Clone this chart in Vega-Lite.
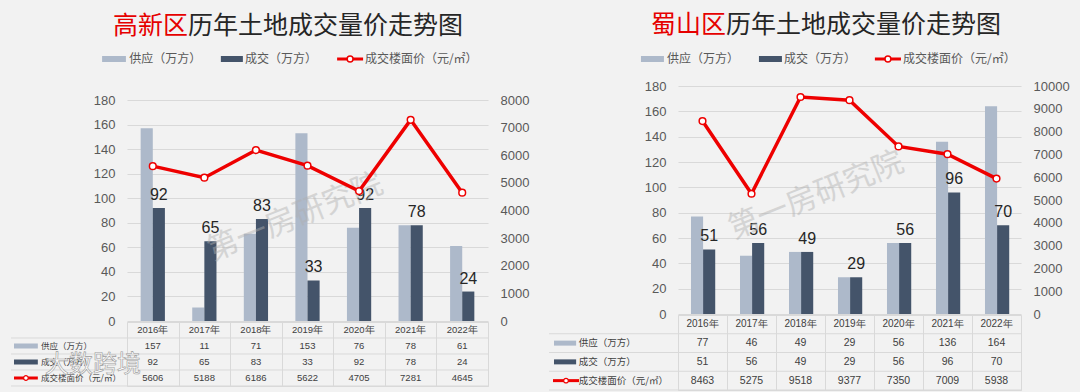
{
  "$schema": "https://vega.github.io/schema/vega-lite/v6.json",
  "background": "#f2f2f2",
  "padding": {"left": 10, "top": 0, "right": 10, "bottom": 4},
  "spacing": 19,
  "config": {
    "view": {"stroke": null},
    "font": "Noto Sans CJK SC",
    "axis": {"ticks": false, "domain": false, "labelFont": "Liberation Sans", "labelFontSize": 13, "labelColor": "#595959", "labelPadding": 12, "grid": false, "labelOverlap": false, "format": "d"}
  },
  "datasets": {
    "gx": [
      {"year": "2016年", "supply": 157, "deal": 92, "price": 5606},
      {"year": "2017年", "supply": 11, "deal": 65, "price": 5188},
      {"year": "2018年", "supply": 71, "deal": 83, "price": 6186},
      {"year": "2019年", "supply": 153, "deal": 33, "price": 5622},
      {"year": "2020年", "supply": 76, "deal": 92, "price": 4705},
      {"year": "2021年", "supply": 78, "deal": 78, "price": 7281},
      {"year": "2022年", "supply": 61, "deal": 24, "price": 4645}
    ],
    "ss": [
      {"year": "2016年", "supply": 77, "deal": 51, "price": 8463},
      {"year": "2017年", "supply": 46, "deal": 56, "price": 5275},
      {"year": "2018年", "supply": 49, "deal": 49, "price": 9518},
      {"year": "2019年", "supply": 29, "deal": 29, "price": 9377},
      {"year": "2020年", "supply": 56, "deal": 56, "price": 7350},
      {"year": "2021年", "supply": 136, "deal": 96, "price": 7009},
      {"year": "2022年", "supply": 164, "deal": 70, "price": 5938}
    ],
    "rows": [
      {"k": "supply", "name": "供应（万方）"},
      {"k": "deal", "name": "成交（万方）"},
      {"k": "price", "name": "成交楼面价（元/㎡）"}
    ]
  },
  "hconcat": [
    {
      "bounds": "flush",
      "spacing": 1,
      "vconcat": [
        {
          "width": 361, "height": 99,
          "data": {"values": [{}]},
          "layer": [
            {"mark": {"type": "text", "text": "高新区", "align": "right", "baseline": "middle", "fontSize": 25, "color": "#e60000"},
             "encoding": {"x": {"datum": 0.169, "type": "quantitative", "scale": {"domain": [0, 1]}, "axis": null}, "y": {"datum": 0.263, "type": "quantitative", "scale": {"domain": [0, 1], "reverse": true}, "axis": null}}},
            {"mark": {"type": "text", "text": "历年土地成交量价走势图", "align": "left", "baseline": "middle", "fontSize": 25, "color": "#262626"},
             "encoding": {"x": {"datum": 0.169, "type": "quantitative", "scale": {"domain": [0, 1]}, "axis": null}, "y": {"datum": 0.263, "type": "quantitative", "scale": {"domain": [0, 1], "reverse": true}, "axis": null}}},
            {"mark": {"type": "rule", "strokeWidth": 6, "color": "#adb9ca"},
             "encoding": {"x": {"datum": -0.069, "type": "quantitative", "scale": {"domain": [0, 1]}, "axis": null}, "x2": {"datum": -0.003}, "y": {"datum": 0.596, "type": "quantitative", "scale": {"domain": [0, 1], "reverse": true}, "axis": null}}},
            {"mark": {"type": "text", "text": "供应（万方）", "align": "left", "baseline": "middle", "fontSize": 12, "color": "#595959"},
             "encoding": {"x": {"datum": 0.006, "type": "quantitative", "scale": {"domain": [0, 1]}, "axis": null}, "y": {"datum": 0.596, "type": "quantitative", "scale": {"domain": [0, 1], "reverse": true}, "axis": null}}},
            {"mark": {"type": "rule", "strokeWidth": 6, "color": "#44546a"},
             "encoding": {"x": {"datum": 0.26, "type": "quantitative", "scale": {"domain": [0, 1]}, "axis": null}, "x2": {"datum": 0.321}, "y": {"datum": 0.596, "type": "quantitative", "scale": {"domain": [0, 1], "reverse": true}, "axis": null}}},
            {"mark": {"type": "text", "text": "成交（万方）", "align": "left", "baseline": "middle", "fontSize": 12, "color": "#595959"},
             "encoding": {"x": {"datum": 0.327, "type": "quantitative", "scale": {"domain": [0, 1]}, "axis": null}, "y": {"datum": 0.596, "type": "quantitative", "scale": {"domain": [0, 1], "reverse": true}, "axis": null}}},
            {"mark": {"type": "rule", "strokeWidth": 3, "color": "#ee0000"},
             "encoding": {"x": {"datum": 0.582, "type": "quantitative", "scale": {"domain": [0, 1]}, "axis": null}, "x2": {"datum": 0.654}, "y": {"datum": 0.596, "type": "quantitative", "scale": {"domain": [0, 1], "reverse": true}, "axis": null}}},
            {"mark": {"type": "point", "shape": "circle", "filled": true, "fill": "white", "stroke": "#ee0000", "strokeWidth": 1.5, "size": 35, "opacity": 1},
             "encoding": {"x": {"datum": 0.618, "type": "quantitative", "scale": {"domain": [0, 1]}, "axis": null}, "y": {"datum": 0.596, "type": "quantitative", "scale": {"domain": [0, 1], "reverse": true}, "axis": null}}},
            {"mark": {"type": "text", "text": "成交楼面价（元/㎡）", "align": "left", "baseline": "middle", "fontSize": 12, "color": "#595959"},
             "encoding": {"x": {"datum": 0.659, "type": "quantitative", "scale": {"domain": [0, 1]}, "axis": null}, "y": {"datum": 0.596, "type": "quantitative", "scale": {"domain": [0, 1], "reverse": true}, "axis": null}}}
          ]
        },
        {
          "width": 361, "height": 221,
          "data": {"name": "gx"},
          "resolve": {"scale": {"y": "independent"}},
          "layer": [
            {
              "layer": [
                {"transform": [{"fold": ["supply", "deal"], "as": ["key", "value"]}],
                 "mark": {"type": "bar"},
                 "encoding": {
                   "x": {"field": "year", "type": "nominal", "sort": null, "scale": {"paddingInner": 0.53, "paddingOuter": 0.265}, "axis": null},
                   "xOffset": {"field": "key", "type": "nominal", "scale": {"domain": ["supply", "deal"], "paddingInner": 0, "paddingOuter": 0}},
                   "y": {"field": "value", "type": "quantitative", "scale": {"domain": [0, 180], "nice": false}, "axis": {"values": [0, 20, 40, 60, 80, 100, 120, 140, 160, 180], "grid": true, "gridColor": "#d9d9d9", "title": null}},
                   "color": {"field": "key", "type": "nominal", "scale": {"domain": ["supply", "deal"], "range": ["#adb9ca", "#44546a"]}, "legend": null}
                 }},
                {"transform": [{"fold": ["deal"], "as": ["key", "value"]}],
                 "mark": {"type": "text", "baseline": "bottom", "dy": -5, "fontSize": 16, "font": "Liberation Sans", "color": "#262626"},
                 "encoding": {
                   "x": {"field": "year", "type": "nominal", "sort": null},
                   "xOffset": {"field": "key", "type": "nominal"},
                   "y": {"field": "value", "type": "quantitative", "axis": {"values": [0, 20, 40, 60, 80, 100, 120, 140, 160, 180], "grid": true, "gridColor": "#d9d9d9", "title": null}},
                   "text": {"field": "value", "type": "quantitative", "format": "d"}
                 }},
                {"data": {"values": [{}]},
                 "mark": {"type": "text", "text": "第一房研究院", "angle": 338, "fontSize": 31, "color": "#b0b0b0", "opacity": 0.45, "dx": -13},
                 "encoding": {"x": {"datum": "2019年", "type": "nominal"}, "y": {"datum": 88, "type": "quantitative", "axis": {"values": [0, 20, 40, 60, 80, 100, 120, 140, 160, 180], "grid": true, "gridColor": "#d9d9d9", "title": null}}}}
              ]
            },
            {
              "layer": [
                {"mark": {"type": "line", "color": "#ee0000", "strokeWidth": 3.5},
                 "encoding": {
                   "x": {"field": "year", "type": "nominal", "sort": null},
                   "y": {"field": "price", "type": "quantitative", "scale": {"domain": [0, 8000], "nice": false}, "axis": {"orient": "right", "values": [0, 1000, 2000, 3000, 4000, 5000, 6000, 7000, 8000], "title": null}}
                 }},
                {"mark": {"type": "point", "shape": "circle", "filled": true, "fill": "white", "stroke": "#ee0000", "strokeWidth": 1.5, "size": 45, "opacity": 1},
                 "encoding": {
                   "x": {"field": "year", "type": "nominal", "sort": null},
                   "y": {"field": "price", "type": "quantitative", "axis": {"orient": "right", "values": [0, 1000, 2000, 3000, 4000, 5000, 6000, 7000, 8000], "title": null}}
                 }}
              ]
            }
          ]
        },
        {
          "width": 361, "height": 64,
          "view": {"stroke": "#d9d9d9"},
          "resolve": {"scale": {"x": "independent"}},
          "layer": [
            {
              "data": {"name": "gx"},
              "layer": [
                {"transform": [{"fold": ["supply", "deal", "price"], "as": ["key", "value"]}],
                 "mark": {"type": "text", "fontSize": 9.5, "font": "Liberation Sans", "color": "#404040"},
                 "encoding": {
                   "x": {"field": "year", "type": "nominal", "sort": null, "scale": {"paddingInner": 0, "paddingOuter": 0}, "axis": {"tickBand": "extent", "grid": true, "gridColor": "#d9d9d9", "labels": false, "ticks": false, "domain": false, "title": null}},
                   "y": {"field": "key", "type": "nominal", "scale": {"domain": ["hdr", "supply", "deal", "price"], "paddingInner": 0, "paddingOuter": 0}, "axis": null},
                   "text": {"field": "value", "type": "quantitative", "format": "d"}
                 }},
                {"mark": {"type": "text", "fontSize": 9.5, "font": "Liberation Sans", "color": "#404040"},
                 "encoding": {
                   "x": {"field": "year", "type": "nominal", "sort": null},
                   "y": {"datum": "hdr", "type": "nominal", "axis": null},
                   "text": {"field": "year", "type": "nominal"}
                 }}
              ]
            },
            {
              "data": {"name": "rows"},
              "layer": [
                {"mark": {"type": "rule", "color": "#d9d9d9", "strokeWidth": 1},
                 "encoding": {
                   "x": {"datum": -0.3213, "type": "quantitative", "scale": {"domain": [0, 1]}, "axis": null},
                   "x2": {"datum": 1},
                   "y": {"field": "k", "type": "nominal", "bandPosition": 0, "axis": null}
                 }},
                {"data": {"values": [{}]},
                 "mark": {"type": "rule", "color": "#d9d9d9", "strokeWidth": 1},
                 "encoding": {
                   "x": {"datum": -0.3213, "type": "quantitative", "scale": {"domain": [0, 1]}, "axis": null},
                   "x2": {"datum": 1},
                   "y": {"datum": "price", "type": "nominal", "bandPosition": 1, "axis": null}
                 }},
                {"mark": {"type": "text", "align": "left", "baseline": "middle", "fontSize": 8.5, "color": "#404040"},
                 "encoding": {
                   "x": {"datum": -0.238, "type": "quantitative", "scale": {"domain": [0, 1]}, "axis": null},
                   "y": {"field": "k", "type": "nominal", "bandPosition": 0.5, "axis": null},
                   "text": {"field": "name", "type": "nominal"}
                 }},
                {"data": {"values": [{}]},
                 "mark": {"type": "rule", "color": "#adb9ca", "strokeWidth": 5},
                 "encoding": {
                   "x": {"datum": -0.313, "type": "quantitative", "scale": {"domain": [0, 1]}, "axis": null},
                   "x2": {"datum": -0.247},
                   "y": {"datum": "supply", "type": "nominal", "bandPosition": 0.5, "axis": null}
                 }},
                {"data": {"values": [{}]},
                 "mark": {"type": "rule", "color": "#44546a", "strokeWidth": 5},
                 "encoding": {
                   "x": {"datum": -0.313, "type": "quantitative", "scale": {"domain": [0, 1]}, "axis": null},
                   "x2": {"datum": -0.247},
                   "y": {"datum": "deal", "type": "nominal", "bandPosition": 0.5, "axis": null}
                 }},
                {"data": {"values": [{}]},
                 "mark": {"type": "rule", "color": "#ee0000", "strokeWidth": 3},
                 "encoding": {
                   "x": {"datum": -0.313, "type": "quantitative", "scale": {"domain": [0, 1]}, "axis": null},
                   "x2": {"datum": -0.247},
                   "y": {"datum": "price", "type": "nominal", "bandPosition": 0.5, "axis": null}
                 }},
                {"data": {"values": [{}]},
                 "mark": {"type": "point", "shape": "circle", "filled": true, "fill": "white", "stroke": "#ee0000", "strokeWidth": 1.2, "size": 22, "opacity": 1},
                 "encoding": {
                   "x": {"datum": -0.28, "type": "quantitative", "scale": {"domain": [0, 1]}, "axis": null},
                   "y": {"datum": "price", "type": "nominal", "bandPosition": 0.5, "axis": null}
                 }},
                {"data": {"values": [{}]},
                 "mark": {"type": "text", "text": "大数跨境", "align": "center", "baseline": "middle", "fontSize": 24, "fill": "#ffffff", "stroke": "#8c8c8c", "strokeWidth": 0.6, "opacity": 0.85},
                 "encoding": {
                   "x": {"datum": -0.094, "type": "quantitative", "scale": {"domain": [0, 1]}, "axis": null},
                   "y": {"datum": "deal", "type": "nominal", "bandPosition": 0.7, "axis": null}
                 }}
              ]
            }
          ]
        }
      ]
    },
    {
      "bounds": "flush",
      "spacing": 1,
      "vconcat": [
        {
          "width": 343, "height": 85,
          "data": {"values": [{}]},
          "layer": [
            {"mark": {"type": "text", "text": "蜀山区", "align": "right", "baseline": "middle", "fontSize": 25, "color": "#e60000"},
             "encoding": {"x": {"datum": 0.14, "type": "quantitative", "scale": {"domain": [0, 1]}, "axis": null}, "y": {"datum": 0.294, "type": "quantitative", "scale": {"domain": [0, 1], "reverse": true}, "axis": null}}},
            {"mark": {"type": "text", "text": "历年土地成交量价走势图", "align": "left", "baseline": "middle", "fontSize": 25, "color": "#262626"},
             "encoding": {"x": {"datum": 0.14, "type": "quantitative", "scale": {"domain": [0, 1]}, "axis": null}, "y": {"datum": 0.294, "type": "quantitative", "scale": {"domain": [0, 1], "reverse": true}, "axis": null}}},
            {"mark": {"type": "rule", "strokeWidth": 6, "color": "#adb9ca"},
             "encoding": {"x": {"datum": -0.108, "type": "quantitative", "scale": {"domain": [0, 1]}, "axis": null}, "x2": {"datum": -0.041}, "y": {"datum": 0.694, "type": "quantitative", "scale": {"domain": [0, 1], "reverse": true}, "axis": null}}},
            {"mark": {"type": "text", "text": "供应（万方）", "align": "left", "baseline": "middle", "fontSize": 12, "color": "#595959"},
             "encoding": {"x": {"datum": -0.032, "type": "quantitative", "scale": {"domain": [0, 1]}, "axis": null}, "y": {"datum": 0.694, "type": "quantitative", "scale": {"domain": [0, 1], "reverse": true}, "axis": null}}},
            {"mark": {"type": "rule", "strokeWidth": 6, "color": "#44546a"},
             "encoding": {"x": {"datum": 0.236, "type": "quantitative", "scale": {"domain": [0, 1]}, "axis": null}, "x2": {"datum": 0.303}, "y": {"datum": 0.694, "type": "quantitative", "scale": {"domain": [0, 1], "reverse": true}, "axis": null}}},
            {"mark": {"type": "text", "text": "成交（万方）", "align": "left", "baseline": "middle", "fontSize": 12, "color": "#595959"},
             "encoding": {"x": {"datum": 0.309, "type": "quantitative", "scale": {"domain": [0, 1]}, "axis": null}, "y": {"datum": 0.694, "type": "quantitative", "scale": {"domain": [0, 1], "reverse": true}, "axis": null}}},
            {"mark": {"type": "rule", "strokeWidth": 3, "color": "#ee0000"},
             "encoding": {"x": {"datum": 0.574, "type": "quantitative", "scale": {"domain": [0, 1]}, "axis": null}, "x2": {"datum": 0.65}, "y": {"datum": 0.694, "type": "quantitative", "scale": {"domain": [0, 1], "reverse": true}, "axis": null}}},
            {"mark": {"type": "point", "shape": "circle", "filled": true, "fill": "white", "stroke": "#ee0000", "strokeWidth": 1.5, "size": 35, "opacity": 1},
             "encoding": {"x": {"datum": 0.612, "type": "quantitative", "scale": {"domain": [0, 1]}, "axis": null}, "y": {"datum": 0.694, "type": "quantitative", "scale": {"domain": [0, 1], "reverse": true}, "axis": null}}},
            {"mark": {"type": "text", "text": "成交楼面价（元/㎡）", "align": "left", "baseline": "middle", "fontSize": 12, "color": "#595959"},
             "encoding": {"x": {"datum": 0.656, "type": "quantitative", "scale": {"domain": [0, 1]}, "axis": null}, "y": {"datum": 0.694, "type": "quantitative", "scale": {"domain": [0, 1], "reverse": true}, "axis": null}}}
          ]
        },
        {
          "width": 343, "height": 228,
          "data": {"name": "ss"},
          "resolve": {"scale": {"y": "independent"}},
          "layer": [
            {
              "layer": [
                {"transform": [{"fold": ["supply", "deal"], "as": ["key", "value"]}],
                 "mark": {"type": "bar"},
                 "encoding": {
                   "x": {"field": "year", "type": "nominal", "sort": null, "scale": {"paddingInner": 0.53, "paddingOuter": 0.265}, "axis": null},
                   "xOffset": {"field": "key", "type": "nominal", "scale": {"domain": ["supply", "deal"], "paddingInner": 0, "paddingOuter": 0}},
                   "y": {"field": "value", "type": "quantitative", "scale": {"domain": [0, 180], "nice": false}, "axis": {"values": [0, 20, 40, 60, 80, 100, 120, 140, 160, 180], "grid": true, "gridColor": "#d9d9d9", "title": null}},
                   "color": {"field": "key", "type": "nominal", "scale": {"domain": ["supply", "deal"], "range": ["#adb9ca", "#44546a"]}, "legend": null}
                 }},
                {"transform": [{"fold": ["deal"], "as": ["key", "value"]}],
                 "mark": {"type": "text", "baseline": "bottom", "dy": -5, "fontSize": 16, "font": "Liberation Sans", "color": "#262626"},
                 "encoding": {
                   "x": {"field": "year", "type": "nominal", "sort": null},
                   "xOffset": {"field": "key", "type": "nominal"},
                   "y": {"field": "value", "type": "quantitative", "axis": {"values": [0, 20, 40, 60, 80, 100, 120, 140, 160, 180], "grid": true, "gridColor": "#d9d9d9", "title": null}},
                   "text": {"field": "value", "type": "quantitative", "format": "d"}
                 }},
                {"data": {"values": [{}]},
                 "mark": {"type": "text", "text": "第一房研究院", "angle": 338, "fontSize": 31, "color": "#b0b0b0", "opacity": 0.45, "dx": 17},
                 "encoding": {"x": {"datum": "2018年", "type": "nominal"}, "y": {"datum": 88, "type": "quantitative", "axis": {"values": [0, 20, 40, 60, 80, 100, 120, 140, 160, 180], "grid": true, "gridColor": "#d9d9d9", "title": null}}}}
              ]
            },
            {
              "layer": [
                {"mark": {"type": "line", "color": "#ee0000", "strokeWidth": 3.5},
                 "encoding": {
                   "x": {"field": "year", "type": "nominal", "sort": null},
                   "y": {"field": "price", "type": "quantitative", "scale": {"domain": [0, 10000], "nice": false}, "axis": {"orient": "right", "values": [0, 1000, 2000, 3000, 4000, 5000, 6000, 7000, 8000, 9000, 10000], "title": null}}
                 }},
                {"mark": {"type": "point", "shape": "circle", "filled": true, "fill": "white", "stroke": "#ee0000", "strokeWidth": 1.5, "size": 45, "opacity": 1},
                 "encoding": {
                   "x": {"field": "year", "type": "nominal", "sort": null},
                   "y": {"field": "price", "type": "quantitative", "axis": {"orient": "right", "values": [0, 1000, 2000, 3000, 4000, 5000, 6000, 7000, 8000, 9000, 10000], "title": null}}
                 }}
              ]
            }
          ]
        },
        {
          "width": 343, "height": 75,
          "view": {"stroke": "#d9d9d9"},
          "resolve": {"scale": {"x": "independent"}},
          "layer": [
            {
              "data": {"name": "ss"},
              "layer": [
                {"transform": [{"fold": ["supply", "deal", "price"], "as": ["key", "value"]}],
                 "mark": {"type": "text", "fontSize": 10.5, "font": "Liberation Sans", "color": "#404040"},
                 "encoding": {
                   "x": {"field": "year", "type": "nominal", "sort": null, "scale": {"paddingInner": 0, "paddingOuter": 0}, "axis": {"tickBand": "extent", "grid": true, "gridColor": "#d9d9d9", "labels": false, "ticks": false, "domain": false, "title": null}},
                   "y": {"field": "key", "type": "nominal", "scale": {"domain": ["hdr", "supply", "deal", "price"], "paddingInner": 0, "paddingOuter": 0}, "axis": null},
                   "text": {"field": "value", "type": "quantitative", "format": "d"}
                 }},
                {"mark": {"type": "text", "fontSize": 10, "font": "Liberation Sans", "color": "#404040"},
                 "encoding": {
                   "x": {"field": "year", "type": "nominal", "sort": null},
                   "y": {"datum": "hdr", "type": "nominal", "axis": null},
                   "text": {"field": "year", "type": "nominal"}
                 }}
              ]
            },
            {
              "data": {"name": "rows"},
              "layer": [
                {"mark": {"type": "rule", "color": "#d9d9d9", "strokeWidth": 1},
                 "encoding": {
                   "x": {"datum": -0.376, "type": "quantitative", "scale": {"domain": [0, 1]}, "axis": null},
                   "x2": {"datum": 1},
                   "y": {"field": "k", "type": "nominal", "bandPosition": 0, "axis": null}
                 }},
                {"data": {"values": [{}]},
                 "mark": {"type": "rule", "color": "#d9d9d9", "strokeWidth": 1},
                 "encoding": {
                   "x": {"datum": -0.376, "type": "quantitative", "scale": {"domain": [0, 1]}, "axis": null},
                   "x2": {"datum": 1},
                   "y": {"datum": "price", "type": "nominal", "bandPosition": 1, "axis": null}
                 }},
                {"mark": {"type": "text", "align": "left", "baseline": "middle", "fontSize": 9.5, "color": "#404040"},
                 "encoding": {
                   "x": {"datum": -0.289, "type": "quantitative", "scale": {"domain": [0, 1]}, "axis": null},
                   "y": {"field": "k", "type": "nominal", "bandPosition": 0.5, "axis": null},
                   "text": {"field": "name", "type": "nominal"}
                 }},
                {"data": {"values": [{}]},
                 "mark": {"type": "rule", "color": "#adb9ca", "strokeWidth": 5},
                 "encoding": {
                   "x": {"datum": -0.3615, "type": "quantitative", "scale": {"domain": [0, 1]}, "axis": null},
                   "x2": {"datum": -0.297},
                   "y": {"datum": "supply", "type": "nominal", "bandPosition": 0.5, "axis": null}
                 }},
                {"data": {"values": [{}]},
                 "mark": {"type": "rule", "color": "#44546a", "strokeWidth": 5},
                 "encoding": {
                   "x": {"datum": -0.3615, "type": "quantitative", "scale": {"domain": [0, 1]}, "axis": null},
                   "x2": {"datum": -0.297},
                   "y": {"datum": "deal", "type": "nominal", "bandPosition": 0.5, "axis": null}
                 }},
                {"data": {"values": [{}]},
                 "mark": {"type": "rule", "color": "#ee0000", "strokeWidth": 3},
                 "encoding": {
                   "x": {"datum": -0.3644, "type": "quantitative", "scale": {"domain": [0, 1]}, "axis": null},
                   "x2": {"datum": -0.2886},
                   "y": {"datum": "price", "type": "nominal", "bandPosition": 0.5, "axis": null}
                 }},
                {"data": {"values": [{}]},
                 "mark": {"type": "point", "shape": "circle", "filled": true, "fill": "white", "stroke": "#ee0000", "strokeWidth": 1.2, "size": 22, "opacity": 1},
                 "encoding": {
                   "x": {"datum": -0.3265, "type": "quantitative", "scale": {"domain": [0, 1]}, "axis": null},
                   "y": {"datum": "price", "type": "nominal", "bandPosition": 0.5, "axis": null}
                 }}
              ]
            }
          ]
        }
      ]
    }
  ]
}
